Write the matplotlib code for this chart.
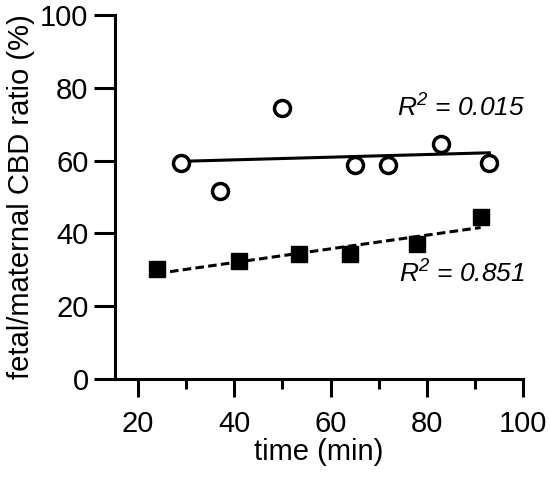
import numpy as np
import matplotlib
matplotlib.use("Agg")
import matplotlib.pyplot as plt
from matplotlib.ticker import MultipleLocator

plt.rcParams['font.family'] = ['Liberation Sans', 'DejaVu Sans']
plt.rcParams['mathtext.default'] = 'regular'

# open circles
t_open = [29, 37, 50, 65, 72, 83, 93]
r_open = [59.3, 51.6, 74.5, 58.8, 58.8, 64.6, 59.3]
# filled squares
t_fill = [24, 41, 53.4, 64, 78, 91.2]
r_fill = [30.2, 32.5, 34.3, 34.3, 37.1, 44.6]

r2_open = "R$^2$ = 0.015"
r2_fill = "R$^2$ = 0.851"

fs = 21
fig = plt.figure(figsize=(5.5, 4.78), dpi=100)
ax = fig.add_axes([115/550, 1-379/478, (523-115)/550, (379-15)/478])

lw = 2.2
# regression lines
k, b = np.polyfit(t_open, r_open, 1)
xs = np.array([min(t_open), max(t_open)])
ax.plot(xs, k*xs + b, color='black', lw=lw, zorder=2)
k, b = np.polyfit(t_fill, r_fill, 1)
xs = np.array([min(t_fill), max(t_fill)])
ax.plot(xs, k*xs + b, color='black', lw=lw, dashes=(2.8, 1.4), zorder=2)

ax.plot(t_open, r_open, 'o', ms=11.5, mfc='white', mec='black', mew=2.5, zorder=3)
ax.plot(t_fill, r_fill, 's', ms=12, mfc='black', mec='black', zorder=3)

ax.text(525/550, 1-117/478, r2_open, transform=fig.transFigure, ha='right', va='baseline',
        fontsize=19, style='italic')
ax.text(525/550, 1-283/478, r2_fill, transform=fig.transFigure, ha='right', va='baseline',
        fontsize=19, style='italic')

ax.set_xlim(15.2, 100)
ax.set_ylim(0, 100)
ax.set_xticks([20, 40, 60, 80, 100])
ax.xaxis.set_minor_locator(MultipleLocator(10))
ax.yaxis.set_major_locator(MultipleLocator(20))

for s in ['top', 'right']:
    ax.spines[s].set_visible(False)
for s in ['left', 'bottom']:
    ax.spines[s].set_linewidth(lw)

ax.tick_params(axis='y', which='major', length=15, width=lw, labelsize=fs, pad=4)
ax.tick_params(axis='x', which='major', length=13, width=lw, labelsize=fs, pad=9)
ax.tick_params(axis='x', which='minor', length=7, width=lw)

ax.set_xlabel("time (min)", fontsize=fs, labelpad=0)
ax.set_ylabel("fetal/maternal CBD ratio (%)", fontsize=fs, labelpad=4)

fig.savefig("out.png", dpi=100)
